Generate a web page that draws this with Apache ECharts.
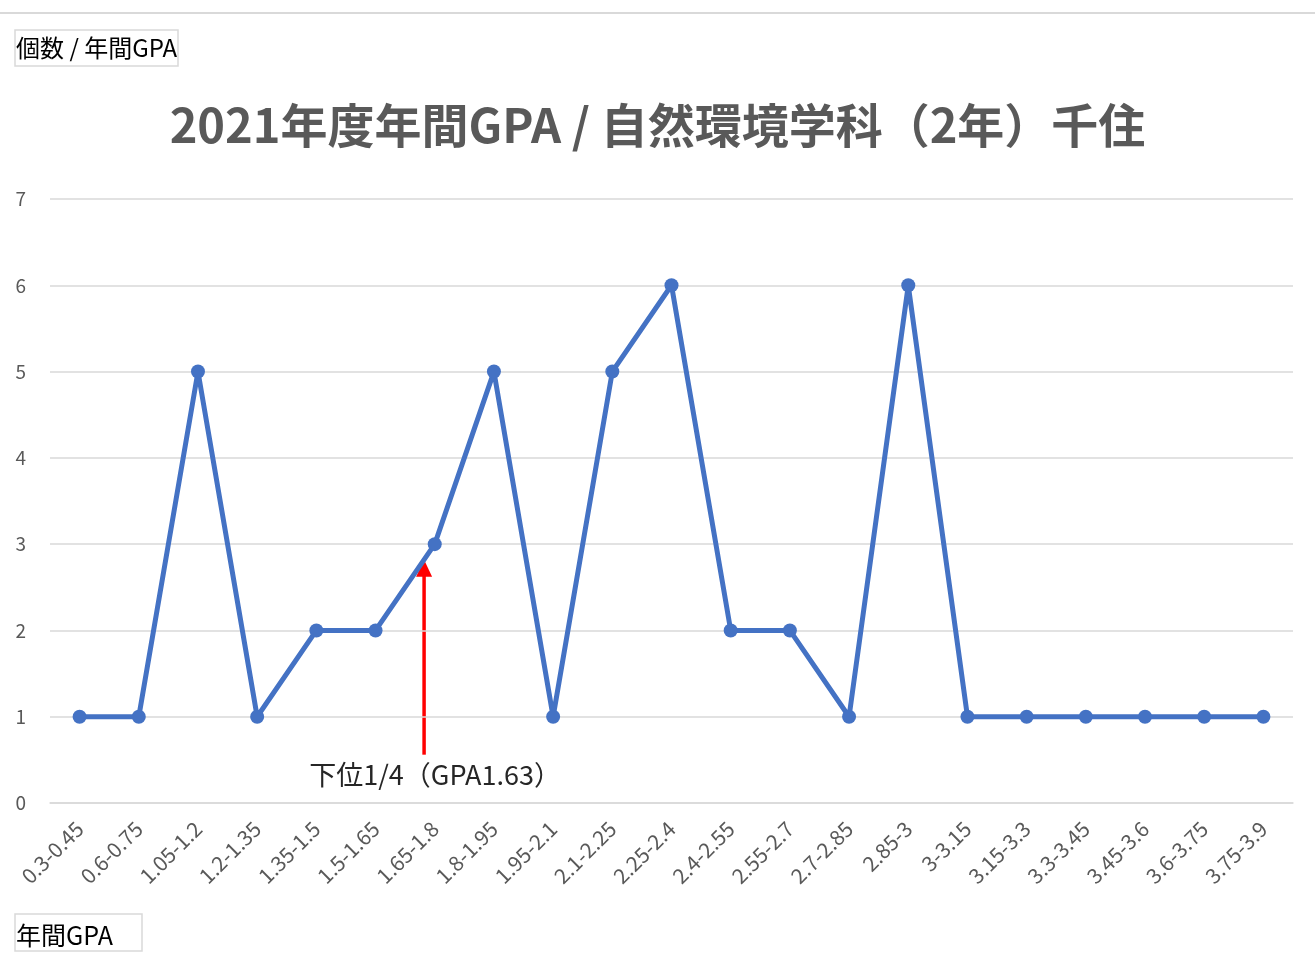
<!DOCTYPE html>
<html>
<head>
<meta charset="utf-8">
<title>2021年度年間GPA</title>
<script src="https://cdn.jsdelivr.net/npm/echarts@6/dist/echarts.min.js"></script>
<style>
  html, body { margin: 0; padding: 0; background: #fff; }
  #chart { width: 1315px; height: 960px; }
</style>
</head>
<body>
<div id="chart"></div>
<script>
// data
const categories = ['0.3-0.45', '0.6-0.75', '1.05-1.2', '1.2-1.35', '1.35-1.5', '1.5-1.65', '1.65-1.8',
  '1.8-1.95', '1.95-2.1', '2.1-2.25', '2.25-2.4', '2.4-2.55', '2.55-2.7', '2.7-2.85', '2.85-3',
  '3-3.15', '3.15-3.3', '3.3-3.45', '3.45-3.6', '3.6-3.75', '3.75-3.9'];
const counts = [1, 1, 5, 1, 2, 2, 3, 5, 1, 5, 6, 2, 2, 1, 6, 1, 1, 1, 1, 1, 1];
const yTicks = [0, 1, 2, 3, 4, 5, 6, 7];
// 下位1/4 の矢印 (カテゴリ位置と値)
const arrowLabel = '下位1/4（GPA1.63）';
const arrowIndex = 5.82;
const arrowFrom = 0.56;
const arrowTo = 2.82;

const font = '"Noto Sans CJK JP", "Noto Sans", sans-serif';
const myChart = echarts.init(document.getElementById('chart'));

const options = {
  backgroundColor: '#fff',
  animation: false,
  title: {
    text: '2021年度年間GPA / 自然環境学科（2年）千住',
    left: 'center',
    top: 97,
    textStyle: { color: '#595959', fontSize: 47, fontWeight: 'bold', fontFamily: font }
  },
  grid: { left: 50, right: 22, top: 199, bottom: 157, containLabel: false },
  xAxis: {
    type: 'category',
    data: categories,
    boundaryGap: true,
    axisLine: { show: true, lineStyle: { color: '#d9d9d9', width: 1.5 } },
    axisTick: { show: false },
    axisLabel: { rotate: 45, color: '#595959', fontSize: 21, fontFamily: font, margin: 22, interval: 0 }
  },
  yAxis: {
    type: 'value',
    min: yTicks[0],
    max: yTicks[yTicks.length - 1],
    interval: 1,
    axisLine: { show: false },
    axisTick: { show: false },
    axisLabel: { color: '#595959', fontSize: 19, fontFamily: font, margin: 24 },
    splitLine: { lineStyle: { color: '#d9d9d9', width: 1.5 } }
  },
  series: [{
    name: '個数',
    type: 'line',
    data: counts,
    symbol: 'circle',
    symbolSize: 14,
    lineStyle: { color: '#4472C4', width: 5 },
    itemStyle: { color: '#4472C4' }
  }],
  graphic: [
    // 上の枠線
    { type: 'line', shape: { x1: 0, y1: 13, x2: 1315, y2: 13 }, style: { stroke: '#d9d9d9', lineWidth: 2 } },
    // 軸ラベル
    { type: 'rect', shape: { x: 15, y: 30, width: 163, height: 36 }, style: { fill: '#fff', stroke: '#d9d9d9', lineWidth: 1.5 } },
    { type: 'text', x: 16, y: 48, style: { text: '個数 / 年間GPA', fill: '#000', font: '24px ' + font, verticalAlign: 'middle' } },
    { type: 'rect', shape: { x: 15, y: 914, width: 127, height: 37 }, style: { fill: '#fff', stroke: '#d9d9d9', lineWidth: 1.5 } },
    { type: 'text', x: 16, y: 935, style: { text: '年間GPA', fill: '#000', font: '25px ' + font, verticalAlign: 'middle' } }
  ]
};
myChart.setOption(options);

// 矢印は軸の座標から計算
const p0 = myChart.convertToPixel({ gridIndex: 0 }, [Math.floor(arrowIndex), arrowFrom]);
const p1 = myChart.convertToPixel({ gridIndex: 0 }, [Math.floor(arrowIndex) + 1, arrowTo]);
const ax = p0[0] + (p1[0] - p0[0]) * (arrowIndex - Math.floor(arrowIndex));
const y0 = p0[1];
const y1 = p1[1];
myChart.setOption({
  graphic: options.graphic.concat([
    { type: 'line', shape: { x1: ax, y1: y0, x2: ax, y2: y1 + 14 }, style: { stroke: '#ff0000', lineWidth: 3.5 } },
    { type: 'polygon', shape: { points: [[ax, y1], [ax - 8, y1 + 17], [ax + 8, y1 + 17]] }, style: { fill: '#ff0000' } },
    { type: 'text', x: ax + 11, y: y0 + 20, style: { text: arrowLabel, fill: '#262626', font: '27px ' + font, align: 'center', verticalAlign: 'middle' } }
  ])
});
</script>
</body>
</html>
